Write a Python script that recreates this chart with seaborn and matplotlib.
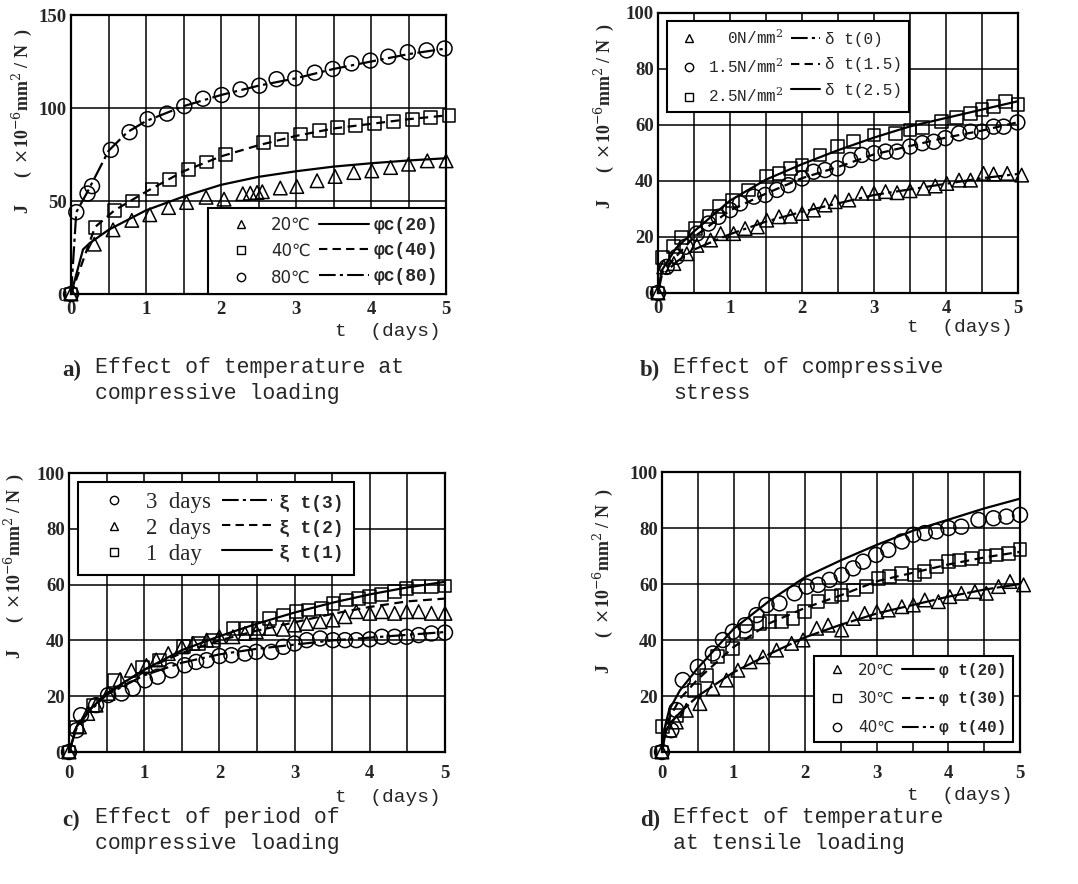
import numpy as np
import matplotlib
matplotlib.use("Agg")
import matplotlib.pyplot as plt
from matplotlib.lines import Line2D
import seaborn as sns

# ------------------------------------------
# DATA
# ------------------------------------------

# a) temperature at compressive loading
a_t80 = [0, 0.07, 0.22, 0.28, 0.53, 0.78, 1.02, 1.28, 1.51, 1.76, 2.01, 2.26, 2.51, 2.74, 2.99, 3.25, 3.49, 3.74, 3.99, 4.23, 4.49, 4.74, 4.98]
a_j80 = [0, 44, 54, 58, 77.5, 87, 94, 97, 101, 105, 107, 110, 112, 115.5, 116, 119, 121, 124, 125.5, 127.6, 130, 131, 132]
a_t40 = [0, 0.32, 0.58, 0.82, 1.08, 1.31, 1.57, 1.81, 2.06, 2.57, 2.81, 3.06, 3.31, 3.55, 3.79, 4.05, 4.3, 4.55, 4.79, 5.04]
a_j40 = [0, 35.8, 44.7, 50, 56.5, 61.4, 67, 71, 75, 81.4, 83, 86, 87.7, 89.7, 90.4, 91.8, 92.7, 94, 95, 95.8]
a_t20 = [0, 0.31, 0.56, 0.81, 1.05, 1.3, 1.54, 1.8, 2.04, 2.29, 2.39, 2.48, 2.55, 2.79, 3.01, 3.28, 3.52, 3.77, 4.01, 4.26, 4.5, 4.75, 5.0]
a_j20 = [0, 26.8, 34.5, 39.6, 42.6, 46.5, 49.2, 52, 51, 53.9, 54.2, 54.6, 55, 57, 57.8, 60.9, 63.2, 65.3, 66.2, 68, 69.8, 71.6, 71.6]
a_fit_t80 = [0, 0.07, 0.22, 0.5, 0.75, 1, 1.5, 2, 2.5, 3, 3.5, 4, 4.5, 5]
a_fit_j80 = [0, 44, 55, 77, 87, 93, 101, 107, 112, 116, 121, 125, 129, 132]
a_fit_t40 = [0, 0.32, 0.58, 1, 1.5, 2, 2.5, 3, 3.5, 4, 4.5, 5]
a_fit_j40 = [0, 36, 45, 55, 66, 74, 80, 85, 89, 91.5, 94, 96]
a_fit_t20 = [0, 0.16, 0.25, 0.5, 1, 1.5, 2, 2.5, 3, 3.5, 4, 4.5, 5]
a_fit_j20 = [0, 24, 27.4, 34.5, 45, 52.4, 58.7, 63, 66, 68.5, 70.3, 71.8, 73]

# b) compressive stress
b_t25 = [0, 0.06, 0.22, 0.33, 0.52, 0.71, 0.85, 1.03, 1.26, 1.51, 1.68, 1.84, 2.0, 2.25, 2.49, 2.72, 3.0, 3.3, 3.5, 3.67, 3.94, 4.15, 4.34, 4.5, 4.66, 4.82, 5.0]
b_j25 = [0, 12.6, 16.5, 19.8, 23, 27.2, 31, 33, 36.8, 41.5, 42.7, 44.5, 45.7, 49.3, 52.3, 54, 56.4, 57, 58.2, 59, 61.2, 62.8, 64.2, 65.4, 66.6, 68.4, 67.2]
b_t15 = [0, 0.12, 0.26, 0.38, 0.54, 0.7, 0.84, 1.0, 1.14, 1.33, 1.49, 1.65, 1.81, 2.0, 2.16, 2.32, 2.49, 2.67, 2.83, 3.0, 3.16, 3.32, 3.5, 3.67, 3.83, 3.99, 4.18, 4.34, 4.5, 4.66, 4.8, 4.99]
b_j15 = [0, 9.3, 12.9, 16.5, 21.2, 24.8, 27.2, 29.6, 32, 34.4, 35, 36.8, 38.5, 40.9, 43.3, 43.9, 44.5, 47.5, 49.3, 49.9, 50.5, 50.5, 52.3, 53.5, 54, 55.3, 57, 57.6, 57.6, 59.4, 59.4, 60.9]
b_t0 = [0, 0.08, 0.22, 0.4, 0.54, 0.73, 0.87, 1.05, 1.21, 1.38, 1.51, 1.68, 1.84, 2.0, 2.16, 2.32, 2.46, 2.65, 2.83, 3.0, 3.16, 3.32, 3.5, 3.69, 3.85, 4.01, 4.18, 4.34, 4.52, 4.66, 4.85, 5.05]
b_j0 = [0, 9.3, 10.5, 14, 17, 18.9, 21.2, 21.2, 23, 23.6, 26, 27.2, 27.4, 28.4, 29.6, 31.4, 32.6, 33.2, 35.6, 35.6, 36.2, 35.8, 36.5, 37.4, 38.2, 39.1, 40.3, 40.3, 42.7, 42.5, 42.7, 42.1]
b_fit_t = [0, 0.05, 0.25, 0.5, 1, 1.5, 2, 2.5, 3, 3.5, 4, 4.5, 5]
b_fit_j25 = [0, 8, 16, 22, 33, 40.5, 46, 51, 55.5, 59.5, 62.5, 65.5, 68.5]
b_fit_j15 = [0, 7, 13, 20, 29.5, 35.5, 41, 45, 49.5, 52.5, 55.5, 58, 61]
b_fit_j0 = [0, 6, 11, 15.5, 21, 25.5, 29, 32, 35, 37, 39, 41, 42.5]

# c) period of compressive loading
c_t3 = [0, 0.1, 0.16, 0.36, 0.52, 0.7, 0.85, 1.01, 1.18, 1.36, 1.54, 1.69, 1.83, 2.0, 2.16, 2.34, 2.49, 2.69, 2.85, 3.0, 3.16, 3.34, 3.51, 3.67, 3.82, 4.0, 4.16, 4.33, 4.49, 4.65, 4.82, 5.0]
c_j3 = [0, 7.8, 13.2, 16.8, 20.4, 21, 22.8, 25.7, 27, 29.3, 31.1, 32.3, 32.9, 34.4, 34.7, 35.3, 35.9, 35.9, 37.7, 38.9, 40.1, 40.7, 40.1, 40.1, 40.1, 40.4, 41.3, 41.3, 41.3, 41.9, 42.5, 42.8]
c_t2 = [0, 0.14, 0.25, 0.36, 0.52, 0.68, 0.83, 1.03, 1.16, 1.32, 1.5, 1.65, 1.83, 2.0, 2.18, 2.34, 2.49, 2.67, 2.85, 3.0, 3.16, 3.34, 3.51, 3.67, 3.82, 4.0, 4.16, 4.33, 4.49, 4.65, 4.82, 5.0]
c_j2 = [0, 9, 13.8, 16.8, 21, 26, 29.3, 31, 33, 35.3, 37.7, 38.9, 40.1, 41.3, 41.3, 42.5, 43.1, 44.3, 44, 45.5, 46.1, 46.7, 47.3, 48.5, 50.3, 49.7, 50.3, 49.7, 50.3, 50.3, 49.7, 49.7]
c_t1 = [0, 0.1, 0.32, 0.61, 0.98, 1.2, 1.52, 1.72, 1.92, 2.18, 2.36, 2.52, 2.67, 2.85, 3.03, 3.18, 3.36, 3.51, 3.69, 3.85, 4.0, 4.16, 4.33, 4.49, 4.65, 4.82, 5.0]
c_j1 = [0, 9, 16.8, 25.7, 30.5, 33, 37.7, 38.9, 40.1, 44.3, 44.3, 44.3, 47.9, 49.1, 50.3, 50.9, 51.5, 53.3, 54.5, 55.1, 55.7, 56.5, 57.5, 58.7, 59.3, 59.3, 59.5]
c_fit_t = [0, 0.1, 0.25, 0.5, 1, 1.5, 2, 2.5, 3, 3.5, 4, 4.5, 5]
c_fit_j1 = [0, 9, 14.5, 21, 29.5, 36.5, 41.5, 46, 50, 53.5, 56.5, 59, 61]
c_fit_j2 = [0, 9, 14.5, 21, 29.5, 35.5, 40, 43.5, 46.5, 49.5, 52, 54, 55]
c_fit_j3 = [0, 8.5, 14, 20.5, 27.5, 32, 35, 37, 38.5, 40, 41, 42, 43]

# d) temperature at tensile loading
d_t40 = [0, 0.13, 0.2, 0.29, 0.5, 0.71, 0.85, 0.99, 1.16, 1.32, 1.46, 1.64, 1.85, 2.02, 2.18, 2.34, 2.51, 2.67, 2.81, 2.99, 3.16, 3.35, 3.51, 3.67, 3.83, 4.0, 4.18, 4.42, 4.63, 4.81, 5.0]
d_j40 = [0, 7.8, 15, 25.7, 30.4, 35.2, 40, 43, 45.3, 48.9, 52.5, 53.1, 56.7, 59.1, 59.7, 61.5, 63.2, 65.6, 68, 70.4, 72.2, 75.2, 77.6, 78.2, 78.8, 80, 80.5, 82.9, 83.5, 84.1, 84.7]
d_t30 = [0, 0.01, 0.2, 0.45, 0.62, 0.78, 0.99, 1.18, 1.37, 1.5, 1.67, 1.83, 1.99, 2.18, 2.37, 2.51, 2.67, 2.86, 3.02, 3.18, 3.35, 3.53, 3.67, 3.83, 4.0, 4.16, 4.32, 4.51, 4.67, 4.84, 5.0]
d_j30 = [0, 9, 13, 22, 27.4, 34, 37, 43, 45.9, 46.5, 46.5, 47.7, 50.1, 53.7, 55.5, 56.1, 57.9, 59.1, 62, 62.6, 63.8, 63.2, 64.4, 66.2, 68, 68.6, 69.2, 69.8, 70.4, 71, 72.2]
d_t20 = [0, 0.11, 0.2, 0.34, 0.53, 0.71, 0.9, 1.06, 1.23, 1.41, 1.6, 1.81, 1.97, 2.16, 2.32, 2.51, 2.67, 2.83, 3.0, 3.16, 3.35, 3.51, 3.67, 3.86, 4.02, 4.18, 4.37, 4.53, 4.7, 4.86, 5.05]
d_j20 = [0, 7.8, 10.7, 14.9, 17.3, 22.7, 25.7, 29.2, 32.2, 34, 36.4, 38.8, 40, 44.2, 45.3, 43.6, 47.7, 49.5, 50.1, 50.7, 51.9, 52.5, 54.3, 53.7, 55.5, 56.7, 57.3, 56.7, 59.1, 60.9, 59.7]
d_fit_t = [0, 0.05, 0.1, 0.25, 0.5, 1, 1.5, 2, 2.5, 3, 3.5, 4, 4.5, 5]
d_fit_j40 = [0, 10, 15, 22, 30, 44, 54, 62.5, 68.5, 74, 79, 83, 87, 90.5]
d_fit_j30 = [0, 8, 12, 19, 26, 37.5, 46, 51.5, 56, 61, 64, 67, 69.5, 71.5]
d_fit_j20 = [0, 7, 10, 14, 20, 28.5, 35, 41, 45.5, 49.5, 52.5, 55.5, 58, 60]

# ------------------------------------------
# STYLE
# ------------------------------------------

sns.set_theme(style="white")
plt.rcParams["font.family"] = ["Liberation Serif", "DejaVu Serif"]
plt.rcParams["mathtext.fontset"] = "dejavuserif"

MONO = ["Liberation Mono", "DejaVu Sans Mono"]
SANS = ["DejaVu Sans"]
DASHED = (0, (4, 2.5))
DASHDOT = (0, (8, 2, 1.5, 2))

fig = plt.figure(figsize=(10.78, 8.84), dpi=100)

ax_a = fig.add_axes([0.0659, 0.6674, 0.3479, 0.3156])
ax_b = fig.add_axes([0.6104, 0.6686, 0.3340, 0.3167])
ax_c = fig.add_axes([0.0640, 0.1493, 0.3488, 0.3156])
ax_d = fig.add_axes([0.6141, 0.1493, 0.3321, 0.3167])


def setup(ax, ymax, ystep, lab_x, lab_y, xpad):
    ax.set_xlim(0, 5)
    ax.set_ylim(0, ymax)
    ax.set_xticks(np.arange(0, 5.01, 1))
    ax.set_xticks(np.arange(0, 5.01, 0.5), minor=True)
    ax.set_yticks(np.arange(0, ymax + 0.1, ystep))
    ax.grid(True, which="both", axis="x", color="black", lw=1.1)
    ax.grid(True, which="major", axis="y", color="black", lw=1.1)
    ax.tick_params(which="both", length=0, labelsize=13.5)
    ax.tick_params(axis="x", pad=xpad)
    ax.tick_params(axis="y", pad=3)
    for lab in ax.get_xticklabels() + ax.get_yticklabels():
        lab.set_fontweight("bold")
    for s in ax.spines.values():
        s.set_color("black")
        s.set_linewidth(1.6)
    ax.set_xlabel("")
    ax.set_ylabel(r"J      (  $\times$10$^{-6}$mm$^{2}$ / N  )", fontsize=13,
                  fontweight="bold")
    ax.yaxis.set_label_coords(lab_x, lab_y)


def pts(ax, x, y, marker, size):
    sns.scatterplot(x=x, y=y, ax=ax, marker=marker, s=size,
                    facecolors="none", edgecolors="black", linewidths=1.1,
                    clip_on=False, zorder=4)


def curve(ax, x, y, ls, lw=1.6):
    sns.lineplot(x=x, y=y, ax=ax, color="black", linestyle=ls, lw=lw,
                 estimator=None, sort=False, zorder=3)


def legend(ax, labels_pts, labels_lines, markers, styles, family, size,
           line_family=None, line_size=None, hl=2.4, lsp=0.5, **kw):
    handles = [Line2D([], [], ls="none", marker=m, mfc="none", mec="black",
                      ms=6, mew=1.0) for m in markers]
    handles += [Line2D([], [], color="black", ls=s, lw=1.5) for s in styles]
    leg = ax.legend(handles, labels_pts + labels_lines, ncol=2,
                    frameon=True, fancybox=False, framealpha=1,
                    edgecolor="black", handlelength=hl, handletextpad=0.3,
                    columnspacing=0.5, labelspacing=lsp, borderpad=0.45,
                    prop={"family": family, "size": size}, **kw)
    leg.get_frame().set_linewidth(1.5)
    if line_family is not None:
        for t in leg.get_texts()[3:]:
            t.set_fontfamily(line_family)
            t.set_fontsize(line_size)
            t.set_fontweight("bold")
    return leg


# ------------------------------------------
# a)
# ------------------------------------------
curve(ax_a, a_fit_t80, a_fit_j80, DASHDOT)
curve(ax_a, a_fit_t40, a_fit_j40, DASHED)
curve(ax_a, a_fit_t20, a_fit_j20, "-")
pts(ax_a, a_t80, a_j80, "o", 115)
pts(ax_a, a_t40, a_j40, "s", 85)
pts(ax_a, a_t20, a_j20, "^", 95)
setup(ax_a, 150, 50, -0.099, 0.62, 5)
legend(ax_a, ["20\u2103", "40\u2103", "80\u2103"],
       ["\u03c6c(20)", "\u03c6c(40)", "\u03c6c(80)"],
       ["^", "s", "o"], ["-", DASHED, DASHDOT], SANS, 12,
       line_family=MONO, line_size=13, hl=3.0, lsp=0.5,
       loc="lower right", bbox_to_anchor=(1.0, 0.0), borderaxespad=0)

# ------------------------------------------
# b)
# ------------------------------------------
curve(ax_b, b_fit_t, b_fit_j25, "-")
curve(ax_b, b_fit_t, b_fit_j15, DASHED)
curve(ax_b, b_fit_t, b_fit_j0, DASHDOT)
pts(ax_b, b_t25, b_j25, "s", 85)
pts(ax_b, b_t15, b_j15, "o", 115)
pts(ax_b, b_t0, b_j0, "^", 95)
setup(ax_b, 100, 20, -0.117, 0.63, 5)
legend(ax_b, ["  0N/mm$^{2}$", "1.5N/mm$^{2}$", "2.5N/mm$^{2}$"],
       ["\u03b4 t(0)", "\u03b4 t(1.5)", "\u03b4 t(2.5)"],
       ["^", "o", "s"], [DASHDOT, DASHED, "-"], MONO, 11.5,
       hl=1.8, lsp=0.65,
       loc="upper left", bbox_to_anchor=(0.025, 0.971), borderaxespad=0)

# ------------------------------------------
# c)
# ------------------------------------------
curve(ax_c, c_fit_t, c_fit_j1, "-")
curve(ax_c, c_fit_t, c_fit_j2, DASHED)
curve(ax_c, c_fit_t, c_fit_j3, DASHDOT)
pts(ax_c, c_t1, c_j1, "s", 85)
pts(ax_c, c_t2, c_j2, "^", 95)
pts(ax_c, c_t3, c_j3, "o", 115)
setup(ax_c, 100, 20, -0.115, 0.665, 9)
legend(ax_c, ["3  days", "2  days", "1  day"],
       ["\u03be t(3)", "\u03be t(2)", "\u03be t(1)"],
       ["o", "^", "s"], [DASHDOT, DASHED, "-"],
       ["Liberation Serif"], 16.5, line_family=MONO, line_size=13,
       hl=2.2, lsp=0.2,
       loc="upper left", bbox_to_anchor=(0.024, 0.968), borderaxespad=0)

# ------------------------------------------
# d)
# ------------------------------------------
curve(ax_d, d_fit_t, d_fit_j40, "-")
curve(ax_d, d_fit_t, d_fit_j30, DASHED)
curve(ax_d, d_fit_t, d_fit_j20, (0, (12, 1.5)))
pts(ax_d, d_t40, d_j40, "o", 115)
pts(ax_d, d_t30, d_j30, "s", 85)
pts(ax_d, d_t20, d_j20, "^", 95)
setup(ax_d, 100, 20, -0.13, 0.61, 9)
legend(ax_d, ["20\u2103", "30\u2103", "40\u2103"],
       ["\u03c6 t(20)", "\u03c6 t(30)", "\u03c6 t(40)"],
       ["^", "s", "o"], ["-", DASHED, DASHDOT], SANS, 11,
       line_family=MONO, line_size=11.5, hl=2.1, lsp=0.9,
       loc="lower right", bbox_to_anchor=(0.98, 0.036), borderaxespad=0)

# ------------------------------------------
# LABELS AND CAPTIONS
# ------------------------------------------
W, H = 1078, 884


def ftext(x, y, s, **kw):
    fig.text(x / W, 1 - y / H, s, **kw)


for (x, y) in [(388, 331), (960, 328), (388, 798), (960, 795)]:
    ftext(x, y, "t  (days)", family=MONO, fontsize=14, ha="center", va="center")

captions = [
    (62, 370, "a)", "Effect of temperature at\ncompressive loading"),
    (640, 370, "b)", "Effect of compressive\nstress"),
    (62, 820, "c)", "Effect of period of\ncompressive loading"),
    (640, 820, "d)", "Effect of temperature\nat tensile loading"),
]
for x, y, tag, body in captions:
    ftext(x, y, tag, fontsize=16.5, fontweight="bold", ha="left", va="center")
    ftext(x + 33, y - 13, body, family=MONO, fontsize=15.5, ha="left",
          va="top", linespacing=1.3)

fig.savefig("out.png", dpi=100)
